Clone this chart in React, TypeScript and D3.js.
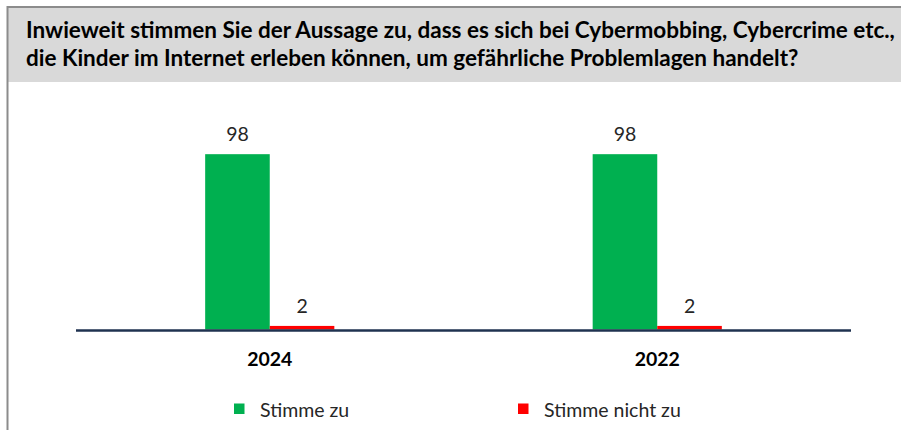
import React from "react";
import * as d3 from "d3";

// survey answer shares in percent
const years = ["2024", "2022"];
const seriesNames = ["Stimme zu", "Stimme nicht zu"];
const agree = [98, 98];
const disagree = [2, 2];

const titleLines = [
  "Inwieweit stimmen Sie der Aussage zu, dass es sich bei Cybermobbing, Cybercrime etc.,",
  "die Kinder im Internet erleben können, um gefährliche Problemlagen handelt?",
];

const W = 901;
const H = 430;
const FONT = "Lato, 'Open Sans', sans-serif";
const colors = ["#00b050", "#ff0000"];

export default function App() {
  const x = d3.scaleBand().domain(years).range([76, 851]).paddingInner(0).paddingOuter(0);
  const xInner = d3.scaleBand().domain(seriesNames).range([0, x.bandwidth()]).paddingInner(0).paddingOuter(2);
  const y = d3.scaleLinear().domain([0, 100]).range([329.5, 150.6]);

  const rows = years.map((yr, i) => ({ year: yr, values: [agree[i], disagree[i]] }));

  return (
    <svg width={W} height={H} style={{ position: "absolute", left: 0, top: 0, background: "#fff" }}>
      {/* header */}
      <rect x={8} y={7} width={W - 8} height={75} fill="#d9d9d9" />
      <line x1={7.5} x2={W} y1={7} y2={7} stroke="#8c8c8c" strokeWidth={2} />
      <line x1={7.5} x2={7.5} y1={6} y2={H} stroke="#8c8c8c" strokeWidth={2} />
      {titleLines.map((t, i) => (
        <text key={i} x={26} y={38 + i * 28} fontFamily={FONT} fontWeight="bold" fontSize={22.5} fill="#000">
          {t}
        </text>
      ))}

      {/* bars */}
      {rows.map(r => (
        <g key={r.year} transform={`translate(${x(r.year)},0)`}>
          {r.values.map((v, j) => (
            <g key={j}>
              <rect
                x={xInner(seriesNames[j])}
                y={y(v)}
                width={xInner.bandwidth()}
                height={y(0) - y(v)}
                fill={colors[j]}
              />
              <text
                x={(xInner(seriesNames[j]) as number) + xInner.bandwidth() / 2}
                y={y(v) - 13}
                textAnchor="middle"
                fontFamily={FONT}
                fontSize={19.5}
                fill="#262626"
              >
                {v}
              </text>
            </g>
          ))}
          <text
            x={x.bandwidth() / 2}
            y={366}
            textAnchor="middle"
            fontFamily={FONT}
            fontWeight="bold"
            fontSize={19.5}
            fill="#000"
          >
            {r.year}
          </text>
        </g>
      ))}

      {/* axis */}
      <line x1={76} x2={851} y1={y(0) + 1} y2={y(0) + 1} stroke="#1f3250" strokeWidth={2.4} />

      {/* legend */}
      {seriesNames.map((s, i) => (
        <g key={s} transform={`translate(${234 + i * 284},0)`}>
          <rect x={0} y={403.5} width={10.5} height={10.5} fill={colors[i]} />
          <text x={26} y={416.5} fontFamily={FONT} fontSize={19.5} fill="#262626">
            {s}
          </text>
        </g>
      ))}
    </svg>
  );
}
